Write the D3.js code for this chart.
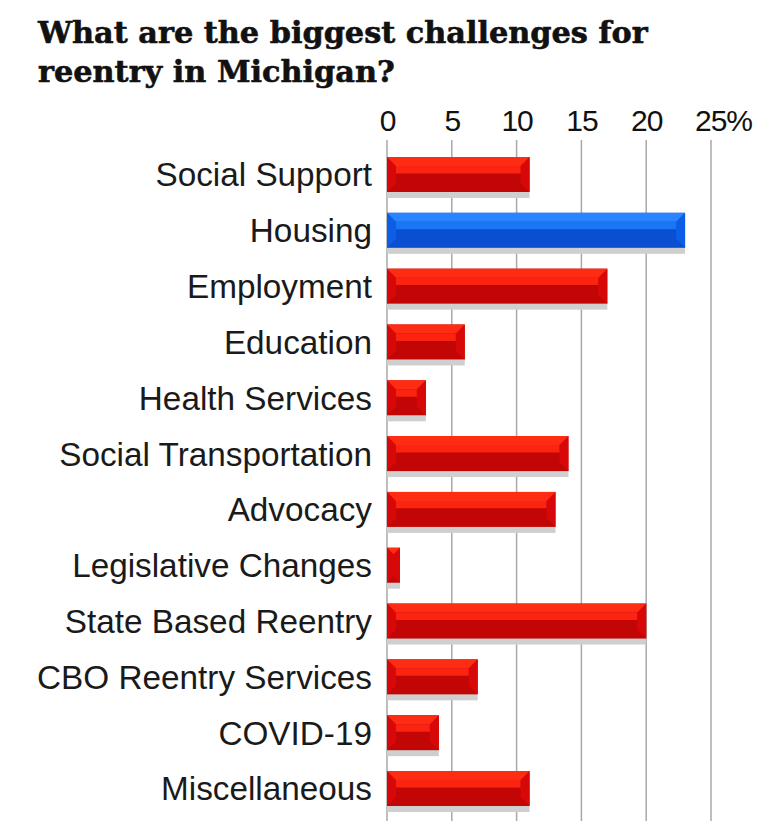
<!DOCTYPE html>
<html><head><meta charset="utf-8">
<script src="https://cdn.jsdelivr.net/npm/d3@7"></script>
<style>body{margin:0;background:#fff;}svg{display:block;}</style>
</head><body>
<script>
const categories = ["Social Support","Housing","Employment","Education","Health Services","Social Transportation","Advocacy","Legislative Changes","State Based Reentry","CBO Reentry Services","COVID-19","Miscellaneous"];
const values = [11,23,17,6,3,14,13,1,20,7,4,11];
const highlight = ["Housing"];
const tickValues = [0,5,10,15,20,25];
const tickLabels = ["0","5","10","15","20","25%"];
const titleLines = ["What are the biggest challenges for","reentry in Michigan?"];

const W=771,H=821;
const svg=d3.select("body").append("svg").attr("width",W).attr("height",H);

const x=d3.scaleLinear().domain([0,25]).range([387,711]);
const y=d3.scaleBand().domain(categories).range([157,806]).paddingInner(0.373).paddingOuter(0);

// title
const t=svg.append("g");
titleLines.forEach((l,i)=>{
  t.append("text").attr("x",38).attr("y",43+i*39).text(l)
   .attr("font-family","DejaVu Serif").attr("font-weight","bold").attr("font-size",27).attr("fill","#111")
   .attr("stroke","#111").attr("stroke-width",0.6);
});
const first=t.select("text").node();
const k=610/first.getComputedTextLength();
t.selectAll("text").attr("font-size",27*k);

// grid
svg.append("g").selectAll("line").data(tickValues).join("line")
  .attr("x1",d=>x(d)).attr("x2",d=>x(d)).attr("y1",140).attr("y2",H)
  .attr("stroke","#a8a8a8").attr("stroke-width",1.5);

// tick labels
const ax=svg.append("g").attr("transform","translate(0,131)")
  .call(d3.axisTop(x).tickValues(tickValues).tickFormat((d,i)=>tickLabels[i]).tickSize(0).tickPadding(0));
ax.select(".domain").remove();
ax.selectAll("text").attr("font-family","Liberation Sans, Arial").attr("font-size",30).attr("fill","#111")
  .attr("dy",0).attr("text-anchor","middle").attr("letter-spacing",-1);
ax.selectAll("text").filter((d,i)=>i===5).attr("dx",12);

// category labels
svg.append("g").selectAll("text").data(categories).join("text")
  .attr("x",372).attr("y",d=>y(d)+y.bandwidth()/2).attr("dy","0.36em")
  .attr("text-anchor","end").attr("font-family","Liberation Sans, Arial").attr("font-size",33.3).attr("fill","#1a1a1a")
  .text(d=>d);

// bars
const data=categories.map((c,i)=>({c,v:values[i],hi:highlight.includes(c)}));
const bh=y.bandwidth();
const g=svg.append("g").selectAll("g").data(data).join("g")
  .attr("transform",d=>`translate(${x(0)},${y(d.c)})`);
g.append("rect").attr("x",0).attr("y",bh-2).attr("width",d=>x(d.v)-x(0)).attr("height",8).attr("fill","#cfcfcf");
g.append("rect").attr("x",0).attr("y",0).attr("width",d=>x(d.v)-x(0)).attr("height",bh)
  .attr("fill",d=>d.hi?"#0a4fd0":"#c20606");
g.append("path").attr("d",d=>{const w=x(d.v)-x(0);const b=Math.min(9,w/2);
   return `M0,0L${b},${b}L${b},${bh-b}L0,${bh}Z M${w},0L${w-b},${b}L${w-b},${bh-b}L${w},${bh}Z`;})
  .attr("fill",d=>d.hi?"#0d5ee6":"#d80808");
g.append("path").attr("d",d=>{const w=x(d.v)-x(0);const b=Math.min(9,w/2);
   return `M0,0L${w},0L${w-b},${b}L${b},${b}Z`;})
  .attr("fill",d=>d.hi?"#2a84ff":"#ff2c14");
g.append("path").attr("d",d=>{const w=x(d.v)-x(0);const b=Math.min(9,w/2);
   return `M${b},${b}L${w-b},${b}L${w-b},${bh*0.47}L${b},${bh*0.47}Z`;})
  .attr("fill",d=>d.hi?"#1b76f5":"#fa2410");
</script>
</body></html>
